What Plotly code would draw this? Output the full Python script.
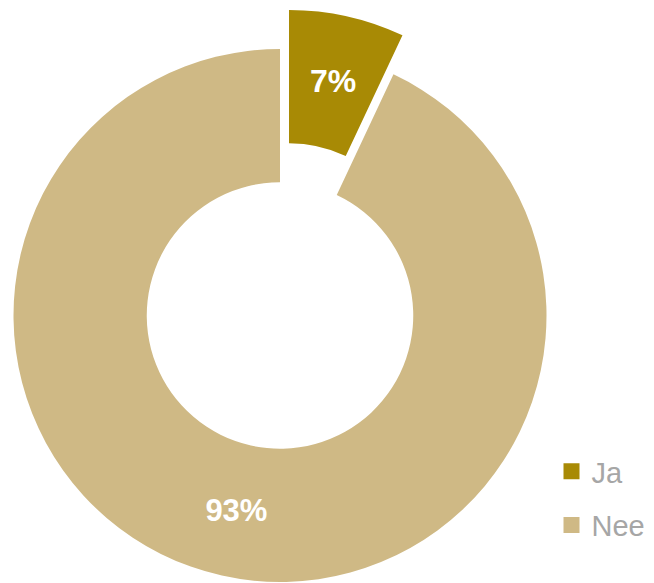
import math
import plotly.graph_objects as go

labels = ["Ja", "Nee"]
values = [7, 93]
colors = ["#A88A05", "#CFB985"]
legend_color = "#A6A6A6"

# page body has an 8px margin, so figure pixel = screen pixel - 8
W, H = 646, 575
TRANSPARENT = "rgba(0,0,0,0)"
HOLE = 0.5

def dom_x(x0, x1):
    return [x0 / W, x1 / W]

def dom_y(top, bottom):
    return [(H - bottom) / H, (H - top) / H]

main_box = (5.5, 41, 538.5, 574)      # left, top, right, bottom (px)
pulled_box = (14.5, 2, 547.5, 535)

label_font = dict(family="Arial, Liberation Sans", size=32, color="white", weight="bold")

fig = go.Figure()

# Main ring (Nee visible, Ja position left empty)
fig.add_trace(go.Pie(
    labels=labels, values=values, sort=False, direction="clockwise", rotation=0,
    hole=HOLE,
    marker=dict(colors=[TRANSPARENT, colors[1]], line=dict(width=0)),
    texttemplate=["", "%{percent:.0%}"],
    textposition="inside", insidetextorientation="horizontal",
    textfont=dict(label_font, size=31),
    domain=dict(x=dom_x(main_box[0], main_box[2]), y=dom_y(main_box[1], main_box[3])),
    showlegend=False, hoverinfo="skip",
))

# Exploded "Ja" slice
fig.add_trace(go.Pie(
    labels=labels, values=values, sort=False, direction="clockwise", rotation=0,
    hole=HOLE,
    marker=dict(colors=[colors[0], TRANSPARENT], line=dict(width=0)),
    textinfo="none",
    domain=dict(x=dom_x(pulled_box[0], pulled_box[2]), y=dom_y(pulled_box[1], pulled_box[3])),
    showlegend=False, hoverinfo="skip",
))

# label of the exploded slice, centred in its ring section
total = sum(values)
half_angle = math.radians(values[0] / total * 360 / 2)
cx = (pulled_box[0] + pulled_box[2]) / 2
cy = (pulled_box[1] + pulled_box[3]) / 2
r = (pulled_box[2] - pulled_box[0]) / 2
rm = r * (1 + HOLE) / 2
fig.add_annotation(
    x=(cx + rm * math.sin(half_angle)) / W, y=(H - (cy - rm * math.cos(half_angle))) / H,
    xref="paper", yref="paper", xanchor="center", yanchor="middle",
    text=f"{round(values[0] / total * 100)}%", showarrow=False,
    font=label_font,
)

# Legend entries
for lab, col in zip(labels, colors):
    fig.add_trace(go.Scatter(
        x=[None], y=[None], mode="markers", name=lab,
        marker=dict(symbol="square", size=16, color=col),
        legendgroup=lab, showlegend=True, hoverinfo="skip",
    ))

fig.update_layout(
    width=W, height=H,
    margin=dict(l=0, r=0, t=0, b=0, autoexpand=False),
    paper_bgcolor="white", plot_bgcolor="white",
    xaxis=dict(visible=False), yaxis=dict(visible=False),
    legend=dict(
        x=543.5 / W, y=(H - 438) / H, xanchor="left", yanchor="top",
        font=dict(family="Arial, Liberation Sans", size=29, color=legend_color),
        tracegroupgap=13, bgcolor="rgba(0,0,0,0)",
    ),
)

fig.write_html("out.html")
